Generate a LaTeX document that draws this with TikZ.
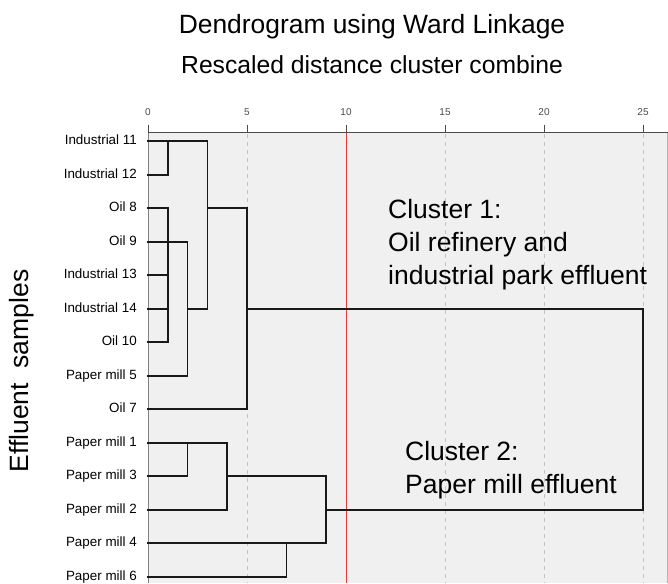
\documentclass[tikz,border=0pt]{standalone}
\usepackage{fontspec}
\setmainfont{Liberation Sans}
\definecolor{plotbg}{HTML}{F0F0F0}
\definecolor{gridgray}{HTML}{C4C4C4}
\definecolor{cutred}{HTML}{E8393A}
\tikzset{
  link/.style={line width=1.7pt, black!90, line cap=rect},
  gridline/.style={gridgray, line width=0.8pt, dash pattern=on 4pt off 4pt},
  leaf/.style={anchor=east, inner sep=0pt, font=\fontsize{13.4}{16}\selectfont, text height=0.72em, text depth=0pt},
  big/.style={font=\fontsize{26.5}{33}\selectfont, inner sep=0pt},
}
\begin{document}
\begin{tikzpicture}[x=1pt,y=-1pt]
\useasboundingbox (0,0) rectangle (668,583);
\fill[plotbg] (148,132) rectangle (668,583);
\draw[gray, line width=0.8pt] (148,132) -- (148,583);
\draw[gray!60, line width=0.8pt] (667,132) -- (667,583);
\foreach \d in {5,15,20,25}
  \draw[gridline] (148+19.8*\d,134) -- (148+19.8*\d,583);
\draw[cutred, line width=1pt] (346,132) -- (346,583);
\draw[black!70, line width=1pt] (148,132) -- (668,132);
\foreach \d in {0,5,...,25}
  \draw[black!70, line width=1pt] (148+19.8*\d,132) -- ++(0,-7)
    node[above=9pt, inner sep=0pt, font=\fontsize{10}{12}\selectfont] {\d};
\node[font=\fontsize{26.4}{32}\selectfont, inner sep=0pt] (title) at (372,27) {Dendrogram using Ward Linkage};
\node[font=\fontsize{24.7}{30}\selectfont, inner sep=0pt] (subtitle) at (372,65) {Rescaled distance cluster combine};
\node[big, rotate=90] (ylab) at (22,371) {Effluent\ \ samples};

\begin{scope}[shift={(148,107.8)}, x=19.8pt, y=-33.5pt]
\foreach \n/\lab in {1/Industrial 11, 2/Industrial 12, 3/Oil 8, 4/Oil 9, 5/Industrial 13,
    6/Industrial 14, 7/Oil 10, 8/Paper mill 5, 9/Oil 7, 10/Paper mill 1,
    11/Paper mill 3, 12/Paper mill 2, 13/Paper mill 4, 14/Paper mill 6}{
  \coordinate (l\n) at (0,\n);
  \node[leaf] (lab\n) at ([xshift=-11pt]l\n) {\lab};
}
\coordinate (k1) at (1,1);
\coordinate (k2) at (1,7);
\coordinate (k3) at (2,8);
\coordinate (k4) at (3,6);
\coordinate (k5) at (5,9);
\coordinate (k6) at (25,12);
\coordinate (k7) at (2,10);
\coordinate (k8) at (4,12);
\coordinate (k9) at (9,13);
\coordinate (k10) at (7,13);
\draw[link] (l2) -| (k1);
\draw[link] (l3) -| (k2) -- (l7);
\draw[link] (l5) -- (l5 -| k2);
\draw[link] (l6) -- (l6 -| k2);
\draw[link] (l4) -| (k3) -- (l8);
\draw[link] (l1) -| (k4) -- (l6 -| k3);
\draw[link] (l3 -| k4) -| (k5) -- (l9);
\draw[link] (l6 -| k5) -| (k6) -- (l12 -| k9);
\draw[link] (l11) -| (k7);
\draw[link] (l10) -| (k8) -- (l12);
\draw[link] (l11 -| k8) -| (k9) -- (l13);
\draw[link] (l14) -| (k10);
\end{scope}

\node[big, align=left, anchor=west] (clus1) at (388,245) {Cluster 1:\\Oil refinery and\\industrial park effluent};
\node[big, align=left, anchor=west] (clus2) at (405,470) {Cluster 2:\\Paper mill effluent};
\end{tikzpicture}
\end{document}
